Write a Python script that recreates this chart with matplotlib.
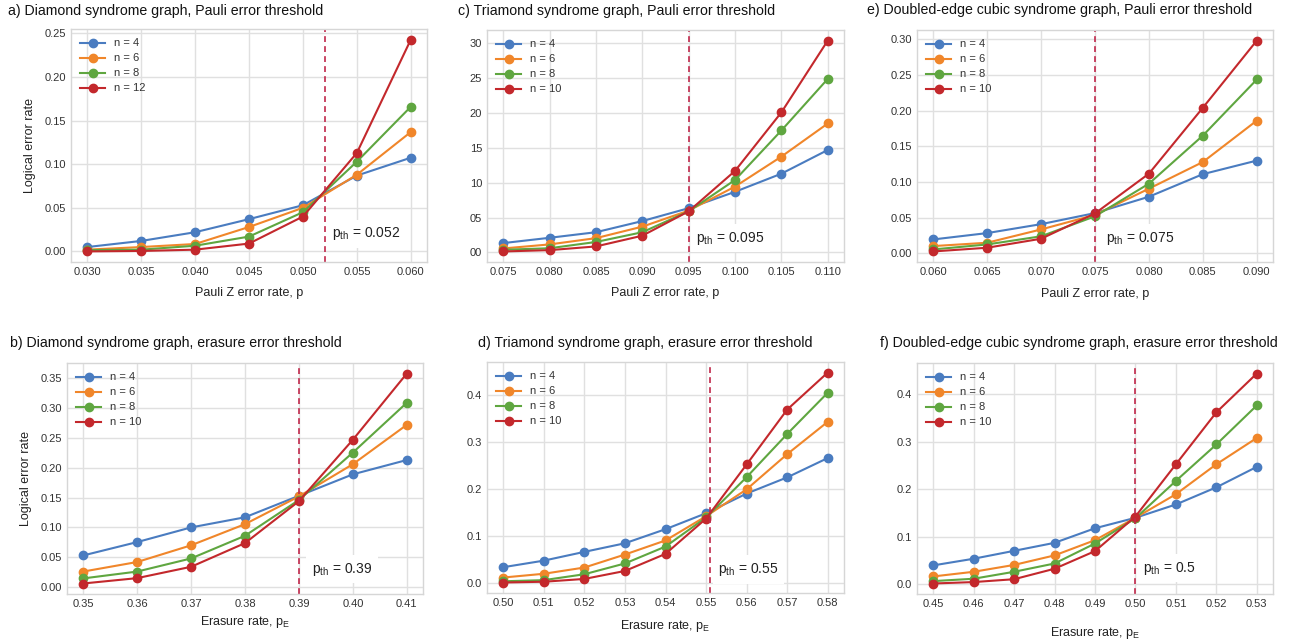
import matplotlib
matplotlib.use("Agg")
import matplotlib.pyplot as plt

plt.rcParams['font.family'] = ['Liberation Sans', 'DejaVu Sans']
plt.rcParams['mathtext.default'] = 'regular'

# ---------------- data ----------------
# a) Diamond, Pauli
a_x = [0.030, 0.035, 0.040, 0.045, 0.050, 0.055, 0.060]
a_n4 = [0.005, 0.012, 0.022, 0.037, 0.053, 0.087, 0.1075]
a_n6 = [0.002, 0.005, 0.0085, 0.028, 0.050, 0.088, 0.137]
a_n8 = [0.0015, 0.002, 0.0065, 0.017, 0.045, 0.103, 0.166]
a_n12 = [0.0, 0.0005, 0.002, 0.009, 0.040, 0.113, 0.243]
a_labels = ["n = 4", "n = 6", "n = 8", "n = 12"]
a_th = 0.052

# c) Triamond, Pauli
c_x = [0.075, 0.080, 0.085, 0.090, 0.095, 0.100, 0.105, 0.110]
c_n4 = [0.0134, 0.021, 0.029, 0.045, 0.0635, 0.087, 0.113, 0.147]
c_n6 = [0.0057, 0.0115, 0.0205, 0.037, 0.060, 0.0945, 0.1375, 0.185]
c_n8 = [0.0038, 0.006, 0.015, 0.029, 0.059, 0.104, 0.175, 0.249]
c_n10 = [0.0014, 0.0033, 0.0086, 0.024, 0.059, 0.117, 0.201, 0.304]
c_labels = ["n = 4", "n = 6", "n = 8", "n = 10"]
c_yticks = [0.0, 0.05, 0.10, 0.15, 0.20, 0.25, 0.30]
c_yticklabels = ["00", "05", "10", "15", "20", "25", "30"]
c_th = 0.095

# e) Doubled-edge cubic, Pauli
e_x = [0.060, 0.065, 0.070, 0.075, 0.080, 0.085, 0.090]
e_n4 = [0.0196, 0.0285, 0.041, 0.0565, 0.0794, 0.111, 0.130]
e_n6 = [0.0103, 0.015, 0.0336, 0.054, 0.0907, 0.128, 0.186]
e_n8 = [0.0056, 0.0126, 0.024, 0.052, 0.0977, 0.165, 0.2435]
e_n10 = [0.0028, 0.008, 0.0206, 0.056, 0.1117, 0.204, 0.298]
e_labels = ["n = 4", "n = 6", "n = 8", "n = 10"]
e_th = 0.075

# b) Diamond, erasure
b_x = [0.35, 0.36, 0.37, 0.38, 0.39, 0.40, 0.41]
b_n4 = [0.053, 0.0754, 0.100, 0.117, 0.153, 0.189, 0.213]
b_n6 = [0.026, 0.042, 0.070, 0.1055, 0.152, 0.206, 0.272]
b_n8 = [0.0145, 0.026, 0.048, 0.086, 0.146, 0.2255, 0.309]
b_n10 = [0.006, 0.015, 0.034, 0.0737, 0.144, 0.247, 0.358]
b_labels = ["n = 4", "n = 6", "n = 8", "n = 10"]
b_th = 0.39

# d) Triamond, erasure
d_x = [0.50, 0.51, 0.52, 0.53, 0.54, 0.55, 0.56, 0.57, 0.58]
d_n4 = [0.034, 0.048, 0.0667, 0.085, 0.115, 0.149, 0.191, 0.2255, 0.2667]
d_n6 = [0.012, 0.020, 0.0333, 0.061, 0.091, 0.1426, 0.200, 0.275, 0.344]
d_n8 = [0.004, 0.0064, 0.019, 0.042, 0.078, 0.140, 0.226, 0.318, 0.406]
d_n10 = [0.0014, 0.003, 0.009, 0.026, 0.0624, 0.1376, 0.253, 0.370, 0.449]
d_labels = ["n = 4", "n = 6", "n = 8", "n = 10"]
d_th = 0.551

# f) Doubled-edge cubic, erasure
f_x = [0.45, 0.46, 0.47, 0.48, 0.49, 0.50, 0.51, 0.52, 0.53]
f_n4 = [0.040, 0.054, 0.0706, 0.0874, 0.118, 0.140, 0.168, 0.204, 0.247]
f_n6 = [0.0168, 0.0266, 0.041, 0.061, 0.093, 0.140, 0.1895, 0.2524, 0.3077]
f_n8 = [0.007, 0.012, 0.0266, 0.044, 0.086, 0.139, 0.2175, 0.294, 0.376]
f_n10 = [0.002, 0.005, 0.011, 0.033, 0.070, 0.1427, 0.2524, 0.3615, 0.443]
f_labels = ["n = 4", "n = 6", "n = 8", "n = 10"]
f_th = 0.50

colors = ["#4a7cc0", "#f0862a", "#5fa640", "#c3282c"]
th_color = "#c0284a"

W, H = 1313, 644
fig = plt.figure(figsize=(W / 100, H / 100), dpi=100)


def add_ax(l, r, t, b):
    return fig.add_axes([l / W, (H - b) / H, (r - l) / W, (b - t) / H])


def style(ax):
    ax.set_facecolor("white")
    ax.grid(True, color="#e0e0e0", linewidth=1.0)
    ax.set_axisbelow(True)
    for s in ax.spines.values():
        s.set_color("#d6d6d6")
        s.set_linewidth(1.0)
    ax.tick_params(length=0, labelsize=8, colors="#333333", pad=3.5)


def panel(ax, x, series, labels, th, th_text, th_pos, xlabel, labelpad, ylabel=None,
          xfmt=None):
    style(ax)
    for ys, lab, c in zip(series, labels, colors):
        ax.plot(x, ys, "-o", color=c, lw=1.5, ms=6, label=lab)
    ax.axvline(th, color=th_color, ls=(0, (3.5, 2.5)), lw=1.2)
    ax.set_xticks(x)
    if xfmt:
        ax.set_xticklabels([xfmt.format(v) for v in x])
    ax.text(th_pos[0], th_pos[1], th_text, fontsize=10, color="#222222",
            va="center", ha="left",
            bbox=dict(facecolor="white", edgecolor="none", pad=4))
    ax.set_xlabel(xlabel, fontsize=9, color="#222222", labelpad=labelpad)
    if ylabel:
        ax.set_ylabel(ylabel, fontsize=9, color="#222222", labelpad=6)
    leg = ax.legend(loc="upper left", frameon=False, fontsize=8, handlelength=2.2,
                    borderaxespad=0.45, labelspacing=0.45)
    for t in leg.get_texts():
        t.set_color("#333333")


axA = add_ax(71, 427, 29, 262)
panel(axA, a_x, [a_n4, a_n6, a_n8, a_n12], a_labels, a_th,
      r"p$_{th}$ = 0.052", (0.0527, 0.020), "Pauli Z error rate, p", 7,
      ylabel="Logical error rate", xfmt="{:.3f}")

axC = add_ax(487, 844, 30, 262)
panel(axC, c_x, [c_n4, c_n6, c_n8, c_n10], c_labels, c_th,
      r"p$_{th}$ = 0.095", (0.0958, 0.0205), "Pauli Z error rate, p", 7,
      xfmt="{:.3f}")
axC.set_yticks(c_yticks)
axC.set_yticklabels(c_yticklabels)

axE = add_ax(917, 1273, 30, 262)
panel(axE, e_x, [e_n4, e_n6, e_n8, e_n10], e_labels, e_th,
      r"p$_{th}$ = 0.075", (0.0760, 0.021), "Pauli Z error rate, p", 8,
      xfmt="{:.3f}")

axB = add_ax(67, 423, 363, 594)
panel(axB, b_x, [b_n4, b_n6, b_n8, b_n10], b_labels, b_th,
      r"p$_{th}$ = 0.39", (0.3924, 0.0296), r"Erasure rate, p$_{E}$", 4,
      ylabel="Logical error rate", xfmt="{:.2f}")

axD = add_ax(487, 844, 362, 593)
panel(axD, d_x, [d_n4, d_n6, d_n8, d_n10], d_labels, d_th,
      r"p$_{th}$ = 0.55", (0.5530, 0.029), r"Erasure rate, p$_{E}$", 7.5,
      xfmt="{:.2f}")

axF = add_ax(917, 1273, 363, 594)
panel(axF, f_x, [f_n4, f_n6, f_n8, f_n10], f_labels, f_th,
      r"p$_{th}$ = 0.5", (0.5018, 0.034), r"Erasure rate, p$_{E}$", 11.5,
      xfmt="{:.2f}")

titles = [
    (8, 15, "a) Diamond syndrome graph, Pauli error threshold"),
    (458, 15, "c) Triamond syndrome graph, Pauli error threshold"),
    (867, 14, "e) Doubled-edge cubic syndrome graph, Pauli error threshold"),
    (10, 347, "b) Diamond syndrome graph, erasure error threshold"),
    (478, 347, "d) Triamond syndrome graph, erasure error threshold"),
    (880, 347, "f) Doubled-edge cubic syndrome graph, erasure error threshold"),
]
for x, y, t in titles:
    fig.text(x / W, (H - y) / H, t, fontsize=10.2, color="#111111",
             ha="left", va="baseline")

fig.savefig("out.png", dpi=100, facecolor="white")
